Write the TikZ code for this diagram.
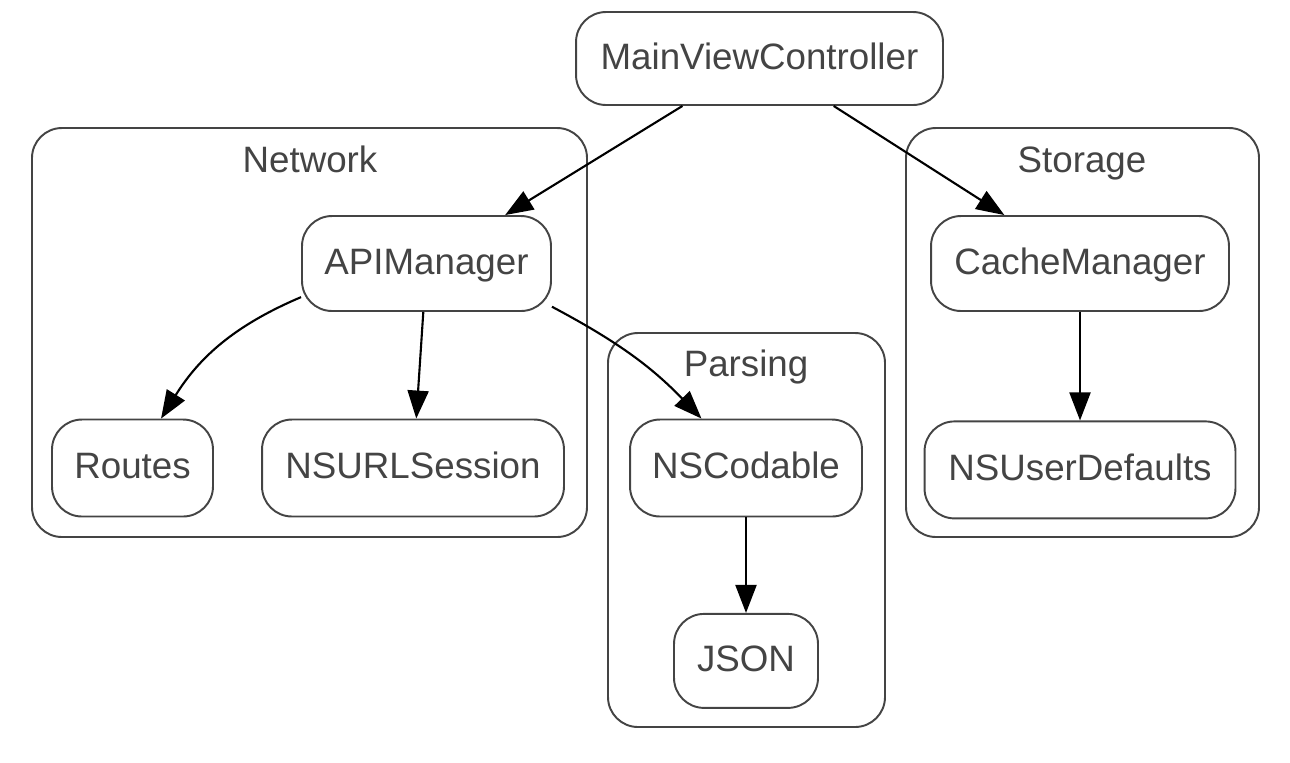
\documentclass[tikz,border=0pt]{standalone}
\usepackage{fontspec}
\setmainfont{Liberation Sans}
\usepackage{tikz}
\usepackage{xcolor}
\usetikzlibrary{positioning}
\usetikzlibrary{arrows.meta}
\definecolor{boxgray}{RGB}{68,68,68}

\begin{document}
\begin{tikzpicture}[x=0.02cm, y=-0.02cm, font=\fontsize{20.9}{25}\selectfont, text=boxgray,
	rnode/.style={rectangle, rounded corners=0.6cm, draw=boxgray, line width=1.1pt, text height=0.58cm, text depth=0.16cm, inner sep=0pt},
	clabel/.style={text height=0.58cm, text depth=0.16cm, inner sep=0pt},
	cluster/.style={draw=boxgray, line width=1.1pt, rounded corners=0.6cm},
	link/.style={draw=black, line width=1.2pt, -{Triangle[length=0.56cm, width=0.42cm]}}]
	\useasboundingbox (0,0) rectangle (1290,762);
	\draw[cluster] (32,128) rectangle (587,537);
	\draw[cluster] (906,128) rectangle (1259,537);
	\draw[cluster] (608,333) rectangle (885,727);
	\node[clabel] (netlabel) at (310,161.5) {Network};
	\node[clabel] (storelabel) at (1082,161.5) {Storage};
	\node[clabel] (parselabel) at (746,365.5) {Parsing};
	\node[rnode, minimum width=7.34cm, minimum height=1.86cm] (main) at (759.5,58.5) {MainViewController};
	\node[rnode, minimum width=4.98cm, minimum height=1.9cm] (api) at (426.5,263.5) {APIManager};
	\node[rnode, minimum width=5.96cm, minimum height=1.9cm] (cache) at (1080,263.5) {CacheManager};
	\node[rnode, minimum width=3.22cm, minimum height=1.94cm] (routes) at (132.5,468) {Routes};
	\node[rnode, minimum width=6.04cm, minimum height=1.94cm] (session) at (413,468) {NSURLSession};
	\node[rnode, minimum width=4.64cm, minimum height=1.94cm] (codable) at (746,468) {NSCodable};
	\node[rnode, minimum width=6.22cm, minimum height=1.94cm] (defaults) [below = 2.17cm of cache] {NSUserDefaults};
	\node[rnode, minimum width=2.88cm, minimum height=1.88cm] (json) [below = 1.91cm of codable] {JSON};
	\draw[link] (main) -- (api);
	\draw[link] (main) -- (cache);
	\draw[link] (api.195) to[out=203, in=58] (routes.60);
	\draw[link] (api) -- (session);
	\draw[link] (api.-19) to[out=-28, in=134] (codable.132);
	\draw[link] (cache) -- (defaults);
	\draw[link] (codable) -- (json);
\end{tikzpicture}
\end{document}
